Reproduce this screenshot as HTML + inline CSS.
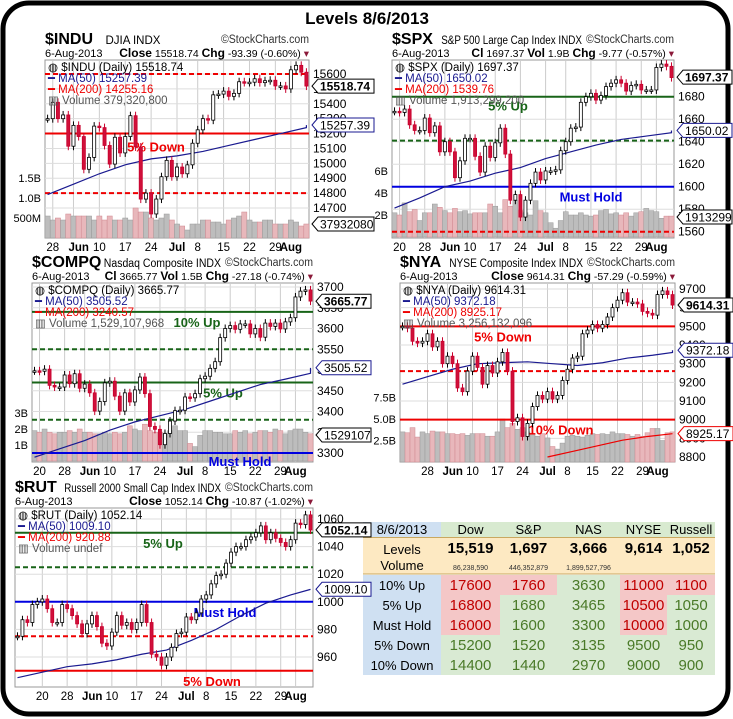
<!DOCTYPE html>
<html><head><meta charset="utf-8"><style>
html,body{margin:0;padding:0;background:#fff;}
svg{display:block;font-family:"Liberation Sans",sans-serif;}
</style></head><body>
<svg id="s" width="733" height="719" viewBox="0 0 733 719">
<rect x="3" y="3" width="725" height="711" rx="26" fill="#fff" stroke="#000" stroke-width="5"/>
<text x="367" y="24" text-anchor="middle" font-size="17" font-weight="bold">Levels 8/6/2013</text>
<g id="tbl"></g>
</svg>
<script>
// ---- data ----
const induClose=[15300,15410,15300,15325,15115,15255,15180,14960,15040,15250,15240,15120,14995,15175,15070,15180,15320,15110,14760,14800,14660,14760,14910,15020,14910,14975,14930,14990,15135,15225,15300,15290,15460,15465,15485,15450,15470,15548,15543,15545,15568,15542,15555,15558,15520,15520,15500,15628,15658,15612,15519];
const induMa50=[14790,14860,14930,14990,15030,15050,15080,15120,15160,15200,15240,15257];
const induVol=[0.55,0.45,0.5,0.45,0.6,0.55,0.55,0.55,0.55,0.45,0.55,0.45,0.55,0.45,0.45,0.5,0.45,0.75,0.65,0.65,0.5,0.45,0.5,0.6,0.45,0.35,0.3,0.2,0.35,0.35,0.45,0.45,0.4,0.4,0.35,0.45,0.5,0.55,0.65,0.45,0.4,0.4,0.45,0.45,0.35,0.35,0.35,0.45,0.4,0.3,0.35];
const spxClose=[1667,1666,1669,1655,1650,1650,1661,1648,1654,1631,1640,1631,1608,1623,1643,1643,1627,1613,1636,1626,1639,1652,1629,1588,1593,1573,1588,1603,1613,1606,1614,1614,1615,1632,1640,1652,1653,1675,1680,1683,1677,1681,1689,1692,1695,1692,1685,1690,1691,1686,1686,1686,1706,1709,1707,1697];
const spxMa50=[1581,1590,1600,1605,1612,1617,1625,1631,1637,1642,1645,1648,1650];
const spxVol=[2.2,2,3.1,2.3,2.5,1.5,2.2,2.2,3,2.7,2.4,2.2,2.6,2.3,2.4,2.1,2.2,2.2,2.2,3.0,2.8,2.2,3.4,2.8,3.3,2.4,2.2,2.0,3.3,2.4,2.2,1.3,0.8,1.5,2.3,2.0,2.0,2.2,2.0,1.9,2.0,2.4,2.5,2.1,2.2,2.0,2.2,1.9,2.2,2.3,2.6,2.4,2.3,1.7,1.9,1.9];
const compClose=[3498,3497,3502,3463,3459,3459,3488,3467,3491,3456,3466,3445,3401,3424,3469,3473,3437,3401,3445,3423,3452,3483,3443,3364,3357,3320,3347,3377,3402,3403,3435,3433,3443,3479,3485,3504,3520,3578,3600,3607,3598,3611,3611,3587,3600,3579,3613,3605,3613,3599,3616,3626,3676,3690,3693,3666];
const compMa50=[3290,3310,3330,3355,3375,3390,3405,3425,3445,3465,3478,3492,3505];
const compVol=[1.9,1.8,2.0,1.8,1.7,1.8,1.8,1.9,1.8,2.0,1.8,1.8,1.7,1.7,1.8,1.7,1.8,1.7,1.8,2.2,2.0,1.9,2.3,1.9,1.8,1.8,1.7,1.9,2.2,1.9,1.9,1.1,0.9,1.6,1.9,1.9,1.8,1.8,1.7,1.7,1.9,1.8,1.9,1.7,1.8,1.9,1.9,1.8,2.0,1.9,1.7,1.9,2.0,2.0,1.8,1.7];
const nyaClose=[9500,9490,9420,9410,9420,9460,9390,9420,9300,9340,9300,9170,9150,9260,9340,9280,9190,9290,9250,9310,9360,9260,8990,9010,8910,8980,9070,9130,9110,9150,9110,9130,9210,9270,9330,9340,9460,9480,9510,9490,9510,9550,9600,9640,9680,9630,9630,9620,9580,9570,9560,9670,9690,9670,9614];
const nyaMa50=[9190,9230,9270,9300,9305,9310,9300,9290,9305,9330,9345,9360,9372];
const nyaMa200=[8800,8830,8860,8890,8910,8925];
const nyaVol=[3.5,3.4,4.0,2.9,3.5,3.3,3.6,3.5,3.5,3.3,3.3,3.2,3.3,3.1,3.3,3.3,3.3,3.0,3.0,3.5,5.0,4.0,4.5,3.8,4.0,3.5,3.3,3.0,3.3,2.8,1.8,1.5,2.2,3.0,3.1,3.0,2.9,3.1,3.3,3.2,3.3,3.2,3.5,3.3,3.3,3.2,3.0,3.2,3.0,3.4,3.9,3.9,2.5,3.4,3.5];
const rutClose=[975,987,985,998,1000,1002,995,985,985,998,995,990,984,977,984,990,982,970,968,978,990,983,985,980,985,998,985,962,960,954,960,967,977,978,989,987,992,1002,1005,1013,1019,1020,1028,1036,1040,1040,1045,1047,1050,1055,1045,1050,1046,1043,1040,1045,1057,1056,1063,1052];
const rutMa50=[945,949,953,955,958,962,965,972,980,990,999,1005,1009];

// ---- layout ----
const S=document.getElementById('s');const NS='http://www.w3.org/2000/svg';
function el(tag,attrs,parent,txt){const e=document.createElementNS(NS,tag);for(const k in attrs)e.setAttribute(k,attrs[k]);if(txt!==undefined)e.textContent=txt;(parent||S).appendChild(e);return e;}
function tradingDates(n){const hol=['2013-05-27','2013-07-04'];const out=[];let d=new Date(Date.UTC(2013,7,6));while(out.length<n){const wd=d.getUTCDay();const iso=d.toISOString().slice(0,10);if(wd!==0&&wd!==6&&hol.indexOf(iso)<0)out.unshift(new Date(d));d=new Date(d.getTime()-86400000);}return out;}
const MON=['Jan','Feb','Mar','Apr','May','Jun','Jul','Aug','Sep','Oct','Nov','Dec'];

function panel(P){
  const g=el('g',{});
  
  
  const n=P.close.length,w=(P.R-P.L)/n;
  const X=i=>P.L+(i+0.5)*w;
  const Y=p=>P.refY+(P.refP-p)*P.k;
  el('rect',{x:P.L,y:P.T,width:P.R-P.L,height:P.B-P.T,fill:'#fff',stroke:'#999'},g);
  const dates=tradingDates(n);
  let lastMonIdx=-10;
  dates.forEach((d,i)=>{
    const prev=dates[i-1];let lab=null;
    if(!prev||d.getUTCMonth()!==prev.getUTCMonth()){if(prev){lab=MON[d.getUTCMonth()];lastMonIdx=i;}}
    else if(d.getUTCDay()<prev.getUTCDay()&&i-lastMonIdx>3)lab=String(d.getUTCDate());
    if(lab){
      const isM=MON.includes(lab);
      el('line',{x1:X(i),x2:X(i),y1:P.T,y2:P.B,stroke:'#ccc','stroke-width':1},g);
      const late=isM&&d.getUTCDate()>1;
      const t=el('text',{x:late?X(i)-5:X(i),y:P.B+13,'text-anchor':late?'start':'middle','font-size':11.5,'font-weight':isM?'bold':'normal'},g,lab);
      
      
    }
  });
  P.ticks.forEach(p=>{
    const y=Y(p);if(y<P.T-2||y>P.B+2)return;
    el('line',{x1:P.L,x2:P.R,y1:y,y2:y,stroke:'#ddd'},g);
    const t=el('text',{x:P.R+4,y:y+4,'font-size':12},g,p);
    
    
  });
  if(P.vol){
    P.vol.forEach((v,i)=>{
      const down=i>0&&P.close[i]<P.close[i-1];
      const h=v*P.volK;
      const b=el('rect',{x:X(i)-w/2,y:P.volZero-h,width:w,height:h,fill:down?'#e8b7bb':'#bdbdbd',stroke:down?'#d08890':'#9a9a9a','stroke-width':0.5},g);
      
      
    });
    P.volLabels.forEach(v=>{el('text',{x:P.L-4,y:P.volZero-v[0]*P.volK+4,'text-anchor':'end','font-size':11},g,v[1]);});
  }
  P.lines.forEach(l=>{
    const y=Y(l.p);
    const ln=el('line',{x1:P.L,x2:P.R,y1:y,y2:y,stroke:l.c,'stroke-width':2,'stroke-dasharray':l.d?'5,3':'none'},g);
    
    
    if(l.t){const t=el('text',{x:l.x,y:Y(l.p)+l.dy,'font-size':13,'font-weight':'bold',fill:l.c,'text-anchor':'middle'},g,l.t);
      
      }
  });
  function ma(arr,step,off,col){
    const pts=arr.map((v,j)=>{const i=Math.min(n-1,off+j*step);return X(i)+','+Y(v);}).join(' ');
    const pl=el('polyline',{points:pts,fill:'none',stroke:col,'stroke-width':1.2},g);
    
    
  }
  ma(P.ma50,Math.ceil((n-1)/(P.ma50.length-1)),0,'#1a1a90');
  if(P.ma200)ma(P.ma200,Math.ceil((n-1-P.ma200off)/(P.ma200.length-1)),P.ma200off,'#e00');
  P.close.forEach((c,i)=>{
    const o=i>0?P.close[i-1]:c;const up=c>=o;
    const y1=Y(Math.max(o,c)),y2=Y(Math.min(o,c));
    el('line',{x1:X(i),x2:X(i),y1:y1-4,y2:y2+4,stroke:up?'#000':'#c8002d'},g);
    const r=el('rect',{x:X(i)-w*0.3,y:y1,width:w*0.6,height:Math.max(1.5,y2-y1),fill:up?'#fff':'#d0103a',stroke:up?'#000':'#c8002d','stroke-width':0.8},g);
    
    
  });
  // header
  const symW=P.sym.length*11.3;
  el('text',{x:P.L,y:P.T-16,'font-size':16,'font-weight':'bold'},g,P.sym);
  const nameTxt=P.full+'  INDX';
  const avail=P.R-92-(P.L+symW+4);
  const nt=el('text',{x:P.L+symW+4,y:P.T-16,'font-size':11.5},g,nameTxt);
  if(nameTxt.length*6.3>avail){nt.setAttribute('textLength',avail);nt.setAttribute('lengthAdjust','spacingAndGlyphs');}
  el('text',{x:P.R,y:P.T-17,'text-anchor':'end','font-size':11.5,fill:'#333',textLength:88,lengthAdjust:'spacingAndGlyphs'},g,'©StockCharts.com');
  el('text',{x:P.L,y:P.T-3,'font-size':11},g,'6-Aug-2013');
  const s2=el('text',{x:P.R,y:P.T-3,'text-anchor':'end','font-size':10.5},g);
  s2.innerHTML=P.line2+' <tspan fill="#8b1a3a">▾</tspan>';
  const leg=[['◍ '+P.sym+' (Daily) '+P.last,'#000'],['━ MA(50) '+P.m50,'#1a1a90'],['━ MA(200) '+P.m200,'#e00'],['▥ Volume '+P.volTxt,'#555']];
  leg.forEach((l,j)=>{const t=el('text',{x:P.L+3,y:P.T+11+j*11,'font-size':11.5,fill:l[1]},g,l[0]);
    
    });
  P.tags.forEach(t=>{
    const y=t.y!==undefined?t.y:Y(t.p);const x=P.R+3;const wd=t.t.length*7+6;
    el('path',{d:`M${x} ${y} L${x+6} ${y-7} L${x+wd} ${y-7} L${x+wd} ${y+7} L${x+6} ${y+7} Z`,fill:'#fff',stroke:t.c,'stroke-width':1},g);
    el('text',{x:x+8,y:y+4.5,'font-size':12,'font-weight':t.b?'bold':'normal'},g,t.t);
  });
}
const B=s=>'<tspan font-weight="bold" font-size="12">'+s+'</tspan>';

panel({name:'indu',sym:'$INDU',full:'DJIA',L:45,R:309,T:60,B:238,refP:15600,refY:74,k:134/900,
 close:induClose,ma50:induMa50,vol:induVol,volZero:238,volK:40,volLabels:[[1.5,'1.5B'],[1,'1.0B'],[0.5,'500M']],
 ticks:[14700,14800,14900,15000,15100,15200,15300,15400,15500,15600],
 lines:[{p:15600,c:'#e00',d:1},{p:15200,c:'#e00',t:'5% Down',x:156,dy:18},{p:14800,c:'#e00',d:1}],
 line2:B('Close')+' 15518.74 '+B('Chg')+' -93.39 (-0.60%)',
 last:'15518.74',m50:'15257.39',m200:'14255.16',volTxt:'379,320,800',
 tags:[{p:15518.74,t:'15518.74',c:'#000',b:1},{p:15257.39,t:'15257.39',c:'#1a1a90'},{y:224,t:'37932080',c:'#000'}]});

panel({name:'spx',sym:'$SPX',full:'S&P 500 Large Cap Index',L:392,R:674,T:60,B:238,refP:1680,refY:96.7,k:135/120,
 close:spxClose,ma50:spxMa50,vol:spxVol,volZero:237,volK:11,volLabels:[[6,'6B'],[4,'4B'],[2,'2B']],
 ticks:[1560,1580,1600,1620,1640,1660,1680],
 lines:[{p:1680,c:'#186418',t:'5% Up',x:508,dy:14},{p:1641,c:'#186418',d:1},{p:1600,c:'#0000e0',t:'Must Hold',x:591,dy:15},{p:1560,c:'#e00',d:1}],
 line2:B('Cl')+' 1697.37 '+B('Vol')+' 1.9B '+B('Chg')+' -9.77 (-0.57%)',
 last:'1697.37',m50:'1650.02',m200:'1539.76',volTxt:'1,913,299,200',
 tags:[{p:1697.37,t:'1697.37',c:'#000',b:1},{p:1650.02,t:'1650.02',c:'#1a1a90'},{y:217,t:'1913299',c:'#000'}]});

panel({name:'compq',sym:'$COMPQ',full:'Nasdaq Composite',L:32,R:313,T:283,B:462,refP:3700,refY:287,k:166/400,
 close:compClose,ma50:compMa50,vol:compVol,volZero:461,volK:16,volLabels:[[3,'3B'],[2,'2B'],[1,'1B']],
 ticks:[3300,3350,3400,3450,3500,3550,3600,3650,3700],
 lines:[{p:3640,c:'#186418',t:'10% Up',x:197,dy:15},{p:3550,c:'#186418',d:1},{p:3470,c:'#186418',t:'5% Up',x:223,dy:15},{p:3380,c:'#186418',d:1},{p:3300,c:'#0000e0',t:'Must Hold',x:240,dy:13}],
 line2:B('Cl')+' 3665.77 '+B('Vol')+' 1.5B '+B('Chg')+' -27.18 (-0.74%)',
 last:'3665.77',m50:'3505.52',m200:'3240.57',volTxt:'1,529,107,968',
 tags:[{p:3665.77,t:'3665.77',c:'#000',b:1},{p:3505.52,t:'3505.52',c:'#1a1a90'},{y:435,t:'1529107',c:'#000'}]});

panel({name:'nya',sym:'$NYA',full:'NYSE Composite Index',L:400,R:675,T:283,B:462,refP:9700,refY:289,k:168/900,
 close:nyaClose,ma50:nyaMa50,ma200:nyaMa200,ma200off:29,vol:nyaVol,volZero:462,volK:8.6,volLabels:[[7.5,'7.5B'],[5,'5.0B'],[2.5,'2.5B']],
 ticks:[8800,8900,9000,9100,9200,9300,9400,9500,9600,9700],
 lines:[{p:9500,c:'#e00',t:'5% Down',x:503,dy:15},{p:9260,c:'#e00',d:1},{p:9000,c:'#e00',t:'10% Down',x:561,dy:15}],
 line2:B('Close')+' 9614.31 '+B('Chg')+' -57.29 (-0.59%)',
 last:'9614.31',m50:'9372.18',m200:'8925.17',volTxt:'3,256,132,096',
 tags:[{p:9614.31,t:'9614.31',c:'#000',b:1},{p:9372.18,t:'9372.18',c:'#1a1a90'},{p:8925.17,t:'8925.17',c:'#e00'}]});

panel({name:'rut',sym:'$RUT',full:'Russell 2000 Small Cap Index',L:15,R:313,T:508,B:687,refP:1060,refY:519,k:138/100,
 close:rutClose,ma50:rutMa50,
 ticks:[960,980,1000,1020,1040,1060],
 lines:[{p:1050,c:'#186418',t:'5% Up',x:163,dy:15},{p:1025,c:'#186418',d:1},{p:1000,c:'#0000e0',t:'Must Hold',x:225,dy:15},{p:975,c:'#e00',d:1},{p:950,c:'#e00',t:'5% Down',x:212,dy:15}],
 line2:B('Close')+' 1052.14 '+B('Chg')+' -10.87 (-1.02%)',
 last:'1052.14',m50:'1009.10',m200:'920.88',volTxt:'undef',
 tags:[{p:1052.14,t:'1052.14',c:'#000',b:1},{p:1009.10,t:'1009.10',c:'#1a1a90'}]});

// ---- table ----
const T=document.getElementById('tbl');
const colX=[363,441,500,557,620,667,715];
const heads=['8/6/2013','Dow','S&P','NAS','NYSE','Russell'];
const lvl=['15,519','1,697','3,666','9,614','1,052'];
const vols=['86,238,590','446,352,879','1,899,527,796','',''];
const rowNames=['10% Up','5% Up','Must Hold','5% Down','10% Down'];
const rowVals=[[17600,1760,3630,11000,1100],[16800,1680,3465,10500,1050],[16000,1600,3300,10000,1000],[15200,1520,3135,9500,950],[14400,1440,2970,9000,900]];
const redCells=[[1,1,0,1,1],[1,0,0,1,0],[1,0,0,1,0],[0,0,0,0,0],[0,0,0,0,0]];
el('rect',{x:363,y:522,width:78,height:15,fill:'#cfe0f2'},T);
el('rect',{x:441,y:522,width:274,height:15,fill:'#d8ead0'},T);
el('rect',{x:363,y:537,width:352,height:37,fill:'#fde9c2'},T);
el('line',{x1:363,x2:715,y1:537.5,y2:537.5,stroke:'#c9a860'},T);
el('line',{x1:363,x2:715,y1:574,y2:574,stroke:'#c9a860'},T);
el('rect',{x:363,y:575,width:78,height:100,fill:'#cfe0f2'},T);
heads.forEach((h,j)=>{el('text',{x:(colX[j]+colX[j+1])/2,y:534,'text-anchor':'middle','font-size':13},T,h);});
el('text',{x:402,y:554,'text-anchor':'middle','font-size':13},T,'Levels');
el('text',{x:402,y:570,'text-anchor':'middle','font-size':13},T,'Volume');
lvl.forEach((v,j)=>{el('text',{x:(colX[j+1]+colX[j+2])/2,y:553,'text-anchor':'middle','font-size':15,'font-weight':'bold'},T,v);});
vols.forEach((v,j)=>{el('text',{x:(colX[j+1]+colX[j+2])/2,y:570,'text-anchor':'middle','font-size':7,fill:'#333'},T,v);});
rowNames.forEach((r,i)=>{
  const y=575+i*20;
  el('text',{x:402,y:y+15,'text-anchor':'middle','font-size':13},T,r);
  rowVals[i].forEach((v,j)=>{
    const red=redCells[i][j];
    const c=el('rect',{x:colX[j+1],y:y,width:colX[j+2]-colX[j+1],height:20,fill:red?'#f4c7c7':'#d9ead3'},T);
    
    
    el('text',{x:(colX[j+1]+colX[j+2])/2,y:y+15,'text-anchor':'middle','font-size':15,fill:red?'#c00000':'#4a7a28'},T,v);
  });
});
</script>
</body></html>
